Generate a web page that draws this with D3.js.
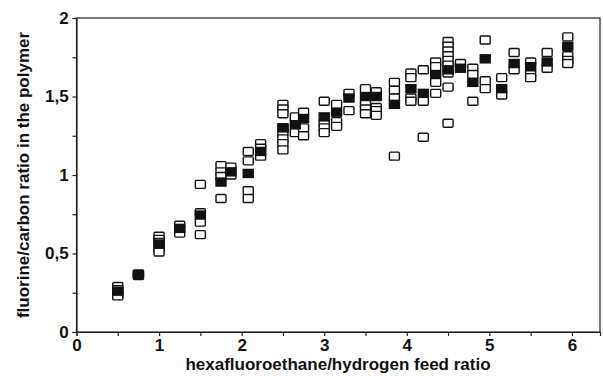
<!DOCTYPE html>
<html>
<head>
<meta charset="utf-8">
<script src="https://cdn.jsdelivr.net/npm/d3@7"></script>
<style>
  body { margin: 0; background: #fff; }
  svg { display: block; }
  text { font-family: "Liberation Sans", Arial, sans-serif; fill: #111; }
</style>
</head>
<body>
<svg id="chart" width="603" height="376"></svg>
<script>
// feed ratio for each group of measurements
const feedRatio = [0.5, 0.75, 1.0, 1.25, 1.5, 1.75, 1.87, 2.08, 2.23, 2.5, 2.65, 2.75, 3.0, 3.15, 3.3,
  3.5, 3.63, 3.85, 4.05, 4.2, 4.35, 4.5, 4.65, 4.8, 4.95, 5.15, 5.3, 5.5, 5.7, 5.95];

// single measurements (open squares)
const replicates = [
  [0.29, 0.27, 0.24, 0.23],
  [0.37, 0.36],
  [0.61, 0.59, 0.57, 0.53, 0.51],
  [0.68, 0.63],
  [0.94, 0.76, 0.7, 0.62],
  [1.06, 1.02, 0.99, 0.85],
  [1.05, 1.0],
  [1.15, 1.09, 0.9, 0.85],
  [1.2, 1.17, 1.12],
  [1.45, 1.42, 1.39, 1.3, 1.27, 1.23, 1.2, 1.16],
  [1.37, 1.27],
  [1.4, 1.3, 1.25],
  [1.47, 1.33, 1.3, 1.27],
  [1.45, 1.34, 1.31],
  [1.52, 1.41],
  [1.55, 1.45, 1.42, 1.39],
  [1.53, 1.43, 1.41, 1.38],
  [1.59, 1.54, 1.49, 1.12],
  [1.65, 1.62, 1.49, 1.47],
  [1.67, 1.47, 1.24],
  [1.72, 1.69, 1.59, 1.52],
  [1.85, 1.82, 1.79, 1.76, 1.73, 1.7, 1.65, 1.56, 1.33],
  [1.71],
  [1.68, 1.64, 1.47],
  [1.86, 1.6, 1.55],
  [1.62, 1.51],
  [1.78, 1.67],
  [1.72, 1.64, 1.62],
  [1.78, 1.68],
  [1.88, 1.76, 1.73, 1.71]
];

// mean values (filled squares)
const means = [0.26, 0.365, 0.56, 0.66, 0.745, 0.955, 1.02, 1.01, 1.15, 1.3, 1.32, 1.36, 1.37, 1.4, 1.49,
  1.5, 1.5, 1.45, 1.55, 1.52, 1.64, 1.67, 1.68, 1.59, 1.74, 1.55, 1.71, 1.69, 1.72, 1.82];

const xTicks = [0, 1, 2, 3, 4, 5, 6];
const yTicks = [0, 0.5, 1, 1.5, 2];

const svg = d3.select("#chart");
const mLeft = 76.5, mRight = 600, mTop = 18, mBottom = 332;

const x = d3.scaleLinear().domain([0, 6.34]).range([mLeft, mRight]);
const y = d3.scaleLinear().domain([0, 2]).range([mBottom, mTop]);

const fmt = (d) => String(d).replace(".", ",");

// frame
svg.append("rect")
  .attr("x", mLeft).attr("y", mTop)
  .attr("width", mRight - mLeft).attr("height", mBottom - mTop)
  .attr("fill", "none").attr("stroke", "#222").attr("stroke-width", 1.2);

// x axis
const xAxis = svg.append("g")
  .attr("transform", `translate(0,${mBottom})`)
  .call(d3.axisBottom(x).tickValues(d3.range(0, 6.01, 0.5)).tickSize(4)
    .tickFormat((d) => (xTicks.includes(d) ? fmt(d) : "")));
xAxis.select(".domain").attr("stroke", "#222").attr("stroke-width", 1.2);
xAxis.selectAll(".tick line").attr("stroke", "#222").attr("stroke-width", 1.2);
xAxis.selectAll(".tick text")
  .style("font-size", "17px").style("font-weight", "bold").style("fill", "#111");

// y axis
const yAxis = svg.append("g")
  .attr("transform", `translate(${mLeft},0)`)
  .call(d3.axisLeft(y).tickValues(d3.range(0, 2.01, 0.25)).tickSize(4)
    .tickFormat((d) => (yTicks.includes(d) ? fmt(d) : "")));
yAxis.select(".domain").attr("stroke", "#222").attr("stroke-width", 1.2);
yAxis.selectAll(".tick line").attr("stroke", "#222").attr("stroke-width", 1.2);
yAxis.selectAll(".tick text")
  .attr("dx", "-0.05em")
  .style("font-size", "17px").style("font-weight", "bold").style("fill", "#111");

// axis titles
svg.append("text")
  .attr("x", 338).attr("y", 370)
  .attr("text-anchor", "middle")
  .style("font-size", "17px")
  .style("font-weight", "600")
  .text("hexafluoroethane/hydrogen feed ratio");

svg.append("text")
  .attr("transform", `translate(29,${(mTop + mBottom) / 2}) rotate(-90)`)
  .attr("text-anchor", "middle")
  .style("font-size", "17px")
  .style("font-weight", "600")
  .text("fluorine/carbon ratio in the polymer");

// markers
const w = 10, h = 8;
const points = [];
replicates.forEach((vals, i) => vals.forEach((v) => points.push({ x: feedRatio[i], y: v })));

const plot = svg.append("g");
plot.selectAll(".open")
  .data(points)
  .enter()
  .append("rect")
  .attr("class", "open")
  .attr("x", (d) => x(d.x) - w / 2)
  .attr("y", (d) => y(d.y) - h / 2)
  .attr("width", w).attr("height", h)
  .attr("rx", 1)
  .attr("fill", "#fff")
  .attr("stroke", "#111")
  .attr("stroke-width", 1.4);

plot.selectAll(".mean")
  .data(means)
  .enter()
  .append("rect")
  .attr("class", "mean")
  .attr("x", (d, i) => x(feedRatio[i]) - w / 2)
  .attr("y", (d) => y(d) - h / 2)
  .attr("width", w).attr("height", h)
  .attr("fill", "#111")
  .attr("stroke", "#111")
  .attr("stroke-width", 1.4);
</script>
</body>
</html>
